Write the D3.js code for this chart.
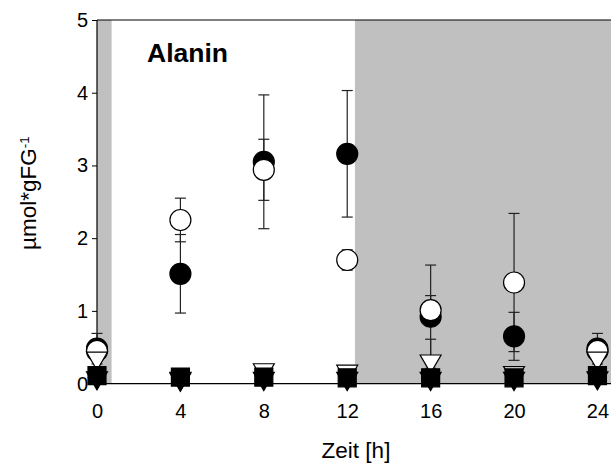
<!DOCTYPE html>
<html>
<head>
<meta charset="utf-8">
<script src="https://cdn.jsdelivr.net/npm/d3@7"></script>
<style>
  body { margin: 0; background: #fff; }
  svg { display: block; font-family: Arial, "Liberation Sans", sans-serif; }
</style>
</head>
<body>
<svg id="chart" width="611" height="468"></svg>
<script>
// ---- data ----
const hours = [0, 4, 8, 12, 16, 20, 24];
const filledCircle    = [0.48, 1.51, 3.05, 3.16, 0.92, 0.65, 0.48];
const filledCircleErr = [0.21, 0.54, 0.92, 0.87, 0.71, 0.33, 0.21];
const openCircle      = [0.45, 2.25, 2.94, 1.70, 1.01, 1.39, 0.45];
const openCircleErr   = [0.10, 0.30, 0.42, 0.14, 0.20, 0.95, 0.10];
const openTriangle    = [0.35, 0.06, 0.19, 0.17, 0.31, 0.15, 0.35];
const openTriangleErr = [0.02, 0.00, 0.00, 0.00, 0.30, 0.00, 0.02];
const filledSquare    = [0.11, 0.09, 0.09, 0.08, 0.08, 0.08, 0.11];
const filledTriangle  = [0.08, 0.07, 0.07, 0.07, 0.07, 0.07, 0.08];
const darkBands = [[0, 0.7], [12.37, 24.7]];
const xTicks = [0, 4, 8, 12, 16, 20, 24];
const yTicks = [0, 1, 2, 3, 4, 5];
const title = "Alanin";
const xTitle = "Zeit [h]";

// ---- layout ----
const svg = d3.select("#chart");
const pLeft = 97, pRight = 611, pTop = 20, pBottom = 383.6;
const x = d3.scaleLinear().domain([0, 24.65]).range([pLeft, pRight]);
const y = d3.scaleLinear().domain([0, 5]).range([pBottom, pTop]);

// night bands
svg.selectAll("rect.band").data(darkBands).join("rect")
  .attr("class", "band")
  .attr("x", d => x(d[0]))
  .attr("width", d => x(d[1]) - x(d[0]))
  .attr("y", pTop).attr("height", pBottom - pTop)
  .attr("fill", "#c0c0c0");

// axes
const tickFont = 20;
const titleFont = 22.5;
const yAxis = svg.append("g").attr("transform", `translate(${pLeft},0)`)
  .call(d3.axisLeft(y).tickValues(yTicks).tickSize(5).tickPadding(4).tickFormat(d3.format("d")));
const xAxis = svg.append("g").attr("transform", `translate(0,${pBottom})`)
  .call(d3.axisBottom(x).tickValues(xTicks).tickSize(5).tickPadding(15).tickFormat(d3.format("d")));
[yAxis, xAxis].forEach(g => {
  g.select(".domain").remove();
  g.selectAll(".tick line").attr("stroke", "#000").attr("stroke-width", 1);
  g.selectAll(".tick text").attr("fill", "#000").style("font-size", tickFont + "px")
    .style("font-family", 'Arial, "Liberation Sans", sans-serif');
});

// frame lines (left, top, bottom)
svg.append("line").attr("x1", pLeft).attr("x2", pLeft).attr("y1", pTop).attr("y2", pBottom)
  .attr("stroke", "#000").attr("stroke-width", 1.2);
svg.append("line").attr("x1", pLeft).attr("x2", pRight).attr("y1", pTop).attr("y2", pTop)
  .attr("stroke", "#000").attr("stroke-width", 1.2);
svg.append("line").attr("x1", pLeft).attr("x2", pRight).attr("y1", pBottom).attr("y2", pBottom)
  .attr("stroke", "#000").attr("stroke-width", 1.2);

// series definitions
const series = [
  { vals: filledCircle, err: filledCircleErr, sym: d3.symbolCircle, size: Math.PI * 10.5 * 10.5, fill: "#000", rot: 0 },
  { vals: openCircle, err: openCircleErr, sym: d3.symbolCircle, size: Math.PI * 10.5 * 10.5, fill: "#fff", rot: 0 },
  { vals: openTriangle, err: openTriangleErr, sym: d3.symbolTriangle, size: 190, fill: "#fff", rot: 180 },
  { vals: filledTriangle, err: null, sym: d3.symbolTriangle, size: 190, fill: "#000", rot: 180 },
  { vals: filledSquare, err: null, sym: d3.symbolSquare, size: 18 * 18, fill: "#000", rot: 0 }
];

// error bars first
const capW = 5.5;
series.forEach(s => {
  if (!s.err) return;
  const g = svg.append("g").attr("stroke", "#222").attr("stroke-width", 1.2);
  hours.forEach((h, i) => {
    const e = s.err[i];
    if (!e) return;
    const cx = x(h), hi = y(s.vals[i] + e), lo = y(Math.max(0, s.vals[i] - e));
    g.append("line").attr("x1", cx).attr("x2", cx).attr("y1", hi).attr("y2", lo);
    g.append("line").attr("x1", cx - capW).attr("x2", cx + capW).attr("y1", hi).attr("y2", hi);
    if (s.vals[i] - e > 0)
      g.append("line").attr("x1", cx - capW).attr("x2", cx + capW).attr("y1", lo).attr("y2", lo);
  });
});

// markers
series.forEach(s => {
  const path = d3.symbol().type(s.sym).size(s.size)();
  svg.append("g").selectAll("path").data(hours).join("path")
    .attr("d", path)
    .attr("transform", (h, i) => `translate(${x(h)},${y(s.vals[i])}) rotate(${s.rot})`)
    .attr("fill", s.fill)
    .attr("stroke", "#000").attr("stroke-width", 1.2);
});

// title
svg.append("text").attr("x", 147).attr("y", 62)
  .style("font-size", "26.5px").style("font-weight", "bold").attr("fill", "#000")
  .text(title);

// x axis title
svg.append("text").attr("x", 356).attr("y", 458).attr("text-anchor", "middle")
  .style("font-size", titleFont + "px").attr("fill", "#000").text(xTitle);

// y axis title
const yt = svg.append("text").attr("transform", "translate(36,193) rotate(-90)")
  .attr("text-anchor", "middle").style("font-size", titleFont + "px").attr("fill", "#000");
yt.append("tspan").text("µmol*gFG");
yt.append("tspan").attr("dy", "-0.55em").style("font-size", "13.5px").text("-1");
</script>
</body>
</html>
